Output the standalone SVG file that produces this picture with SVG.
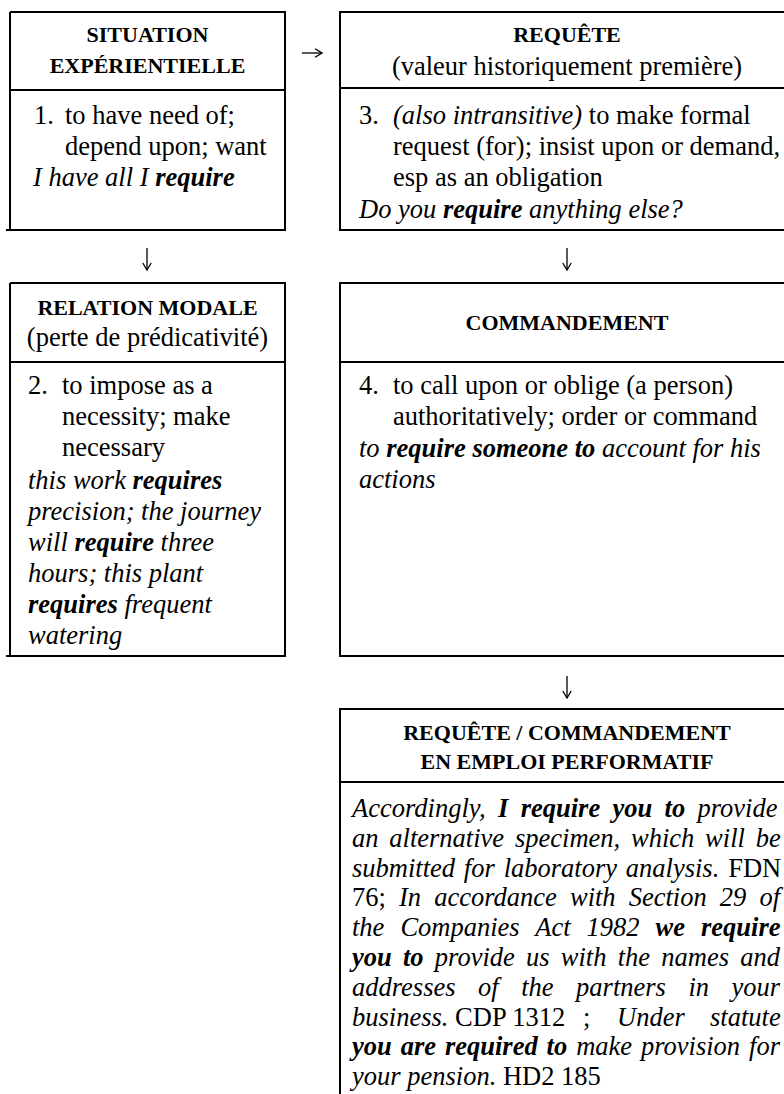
<svg xmlns="http://www.w3.org/2000/svg" width="784" height="1094" viewBox="0 0 784 1094">
<style>
.bx{fill:none;stroke:#000;stroke-width:2}
.h{font-family:"Liberation Serif","Times New Roman",serif;font-weight:bold;font-size:22px;text-anchor:middle;fill:#000}
.t{font-family:"Liberation Serif","Times New Roman",serif;font-size:26.5px;fill:#000}
.c{text-anchor:middle}
.i{font-style:italic}
.bi{font-style:italic;font-weight:bold}
.r{font-style:normal;font-weight:normal}
.cn{fill:none;stroke:#000;stroke-width:1.3}
</style>
<defs>
<marker id="ah" viewBox="0 0 10 10" refX="9.5" refY="5" markerWidth="10" markerHeight="10" markerUnits="userSpaceOnUse" orient="auto">
<path d="M2.5,0.8 L9.5,5 L2.5,9.2" fill="none" stroke="#000" stroke-width="1.3"/>
</marker>
</defs>
<g id="connectors">
<path class="cn" d="M302,53 H322" marker-end="url(#ah)"/>
<path class="cn" d="M147,248 V270" marker-end="url(#ah)"/>
<path class="cn" d="M567,248 V270" marker-end="url(#ah)"/>
<path class="cn" d="M567,676 V698" marker-end="url(#ah)"/>
</g>
<g id="situation-experientielle">
<path class="bx" d="M10,12 H285 V230 H6 M10,12 V230 M10,90 H285"/>
<text class="h" x="147.5" y="42">SITUATION</text>
<text class="h" x="147.5" y="73">EXPÉRIENTIELLE</text>
<text class="t" x="34" y="124">1.</text>
<text class="t" x="65" y="124">to have need of;</text>
<text class="t" x="65" y="155">depend upon; want</text>
<text class="t i" x="33" y="186">I have all I <tspan class="bi">require</tspan></text>
</g>
<g id="requete">
<path class="bx" d="M784,12 H340 V230 H784 M340,88 H784"/>
<text class="h" x="567" y="42">REQUÊTE</text>
<text class="t c" x="567" y="75">(valeur historiquement première)</text>
<text class="t" x="359" y="124">3.</text>
<text class="t" x="393" y="124"><tspan class="i">(also intransitive)</tspan> to make formal</text>
<text class="t" x="393" y="155">request (for); insist upon or demand,</text>
<text class="t" x="393" y="186">esp as an obligation</text>
<text class="t i" x="359" y="218">Do you <tspan class="bi">require</tspan> anything else?</text>
</g>
<g id="relation-modale">
<path class="bx" d="M10,283 H285 V656 H6 M10,283 V656 M10,362 H285"/>
<text class="h" x="147.5" y="315">RELATION MODALE</text>
<text class="t c" x="147.5" y="346">(perte de prédicativité)</text>
<text class="t" x="28" y="394">2.</text>
<text class="t" x="62" y="394">to impose as a</text>
<text class="t" x="62" y="425">necessity; make</text>
<text class="t" x="62" y="456">necessary</text>
<text class="t i" x="28" y="489">this work <tspan class="bi">requires</tspan></text>
<text class="t i" x="28" y="520">precision; the journey</text>
<text class="t i" x="28" y="551">will <tspan class="bi">require</tspan> three</text>
<text class="t i" x="28" y="582">hours; this plant</text>
<text class="t i" x="28" y="613"><tspan class="bi">requires</tspan> frequent</text>
<text class="t i" x="28" y="644">watering</text>
</g>
<g id="commandement">
<path class="bx" d="M784,283 H340 V656 H784 M340,362 H784"/>
<text class="h" x="567" y="330">COMMANDEMENT</text>
<text class="t" x="359" y="394">4.</text>
<text class="t" x="393" y="394">to call upon or oblige (a person)</text>
<text class="t" x="393" y="425">authoritatively; order or command</text>
<text class="t i" x="359" y="457">to <tspan class="bi">require someone to</tspan> account for his</text>
<text class="t i" x="359" y="488">actions</text>
</g>
<g id="requete-commandement-performatif">
<path class="bx" d="M784,709 H340 V1094 M340,782 H784"/>
<text class="h" x="567" y="740">REQUÊTE / COMMANDEMENT</text>
<text class="h" x="567" y="769">EN EMPLOI PERFORMATIF</text>
<text class="t i" x="352" y="817" word-spacing="5.7">Accordingly, <tspan class="bi">I require you to</tspan> provide</text>
<text class="t i" x="352" y="847" word-spacing="4.2">an alternative specimen, which will be</text>
<text class="t i" x="352" y="877" word-spacing="2.2">submitted for laboratory analysis.<tspan class="r"> FDN</tspan></text>
<text class="t" x="352" y="906" word-spacing="6.5">76;<tspan class="i"> In accordance with Section 29 of</tspan></text>
<text class="t i" x="352" y="936" word-spacing="9.4">the Companies Act 1982 <tspan class="bi">we require</tspan></text>
<text class="t i" x="352" y="966" word-spacing="4.6"><tspan class="bi">you to</tspan> provide us with the names and</text>
<text class="t i" x="352" y="996" word-spacing="15.9">addresses of the partners in your</text>
<text class="t i" x="352" y="1026">business.<tspan class="r"> CDP 1312</tspan><tspan class="r" x="583">;</tspan><tspan x="617">Under</tspan><tspan x="710">statute</tspan></text>
<text class="t i" x="352" y="1055" word-spacing="2.3"><tspan class="bi">you are required to</tspan> make provision for</text>
<text class="t i" x="352" y="1085">your pension.<tspan class="r"> HD2 185</tspan></text>
</g>
</svg>
